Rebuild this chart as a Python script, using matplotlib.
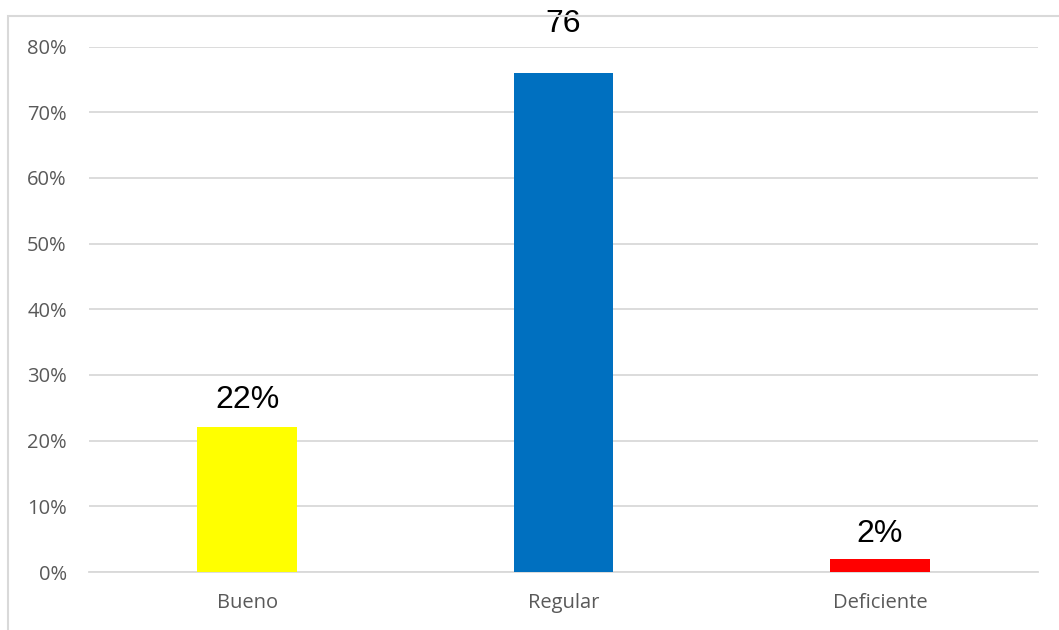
import matplotlib
matplotlib.use("Agg")
import matplotlib.pyplot as plt
from matplotlib.patches import Rectangle
from matplotlib.ticker import FuncFormatter, MultipleLocator

categories = ["Bueno", "Regular", "Deficiente"]
values = [0.22, 0.76, 0.02]
value_labels = ["22%", "76", "2%"]
bar_colors = ["#FFFF00", "#0070C0", "#FF0000"]
label_offsets = [0.042, 0.074, 0.038]

W, H = 1059, 630
fig = plt.figure(figsize=(W / 100, H / 100), dpi=100)

# outer chart frame (light grey border on top and left)
fig.patches.append(Rectangle((8 / W, -0.1), 1.2, 1 - 16 / H + 0.1,
                             transform=fig.transFigure, fill=False,
                             edgecolor="#D9D9D9", linewidth=1.5))

ax = fig.add_axes([89 / W, 1 - 572 / H, (1038 - 89) / W, (572 - 46.5) / H])
x = range(len(categories))
ax.bar(x, values, width=0.316, color=bar_colors, zorder=3)
ax.set_xlim(-0.5, len(categories) - 0.5)
ax.set_ylim(0, 0.8)
ax.yaxis.set_major_locator(MultipleLocator(0.1))
ax.yaxis.set_major_formatter(FuncFormatter(lambda v, p: f"{v * 100:.0f}%"))
ax.set_xticks(list(x))
ax.set_xticklabels(categories)
ax.grid(axis="y", color="#D9D9D9", linewidth=1.3, zorder=0)
for s in ["top", "right", "left"]:
    ax.spines[s].set_visible(False)
ax.spines["bottom"].set_color("#D9D9D9")
ax.spines["bottom"].set_linewidth(1.3)
ax.tick_params(axis="both", length=0, labelsize=14.5, labelcolor="#595959")
ax.tick_params(axis="y", pad=16)
ax.tick_params(axis="x", pad=15)
for lbl in ax.get_xticklabels() + ax.get_yticklabels():
    lbl.set_fontfamily("Open Sans")

for xi, v, t, off in zip(x, values, value_labels, label_offsets):
    ax.text(xi, v + off, t, ha="center", va="center", fontsize=23,
            family="Liberation Sans", color="black", clip_on=False)

fig.savefig("out.png", dpi=100)
